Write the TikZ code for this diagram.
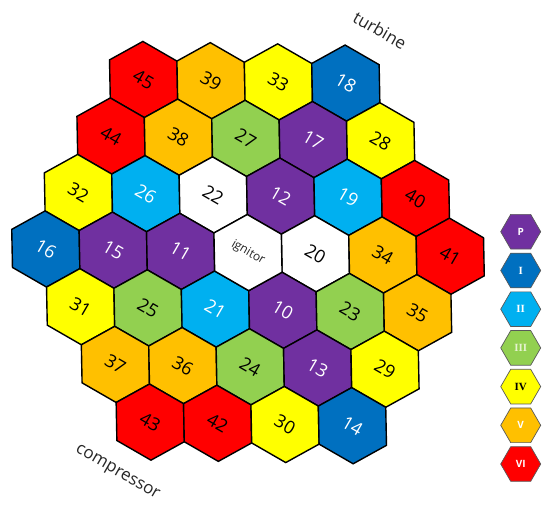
\documentclass[tikz,border=0pt]{standalone}
\usepackage{fontspec}
\setmainfont{Open Sans}
\newfontfamily\legserif{Liberation Serif}
\usetikzlibrary{shapes.geometric}
\definecolor{cred}{HTML}{FF0000}
\definecolor{corange}{HTML}{FFC000}
\definecolor{cyellow}{HTML}{FFFF00}
\definecolor{cgreen}{HTML}{92D050}
\definecolor{clblue}{HTML}{00B0F0}
\definecolor{cdblue}{HTML}{0070C0}
\definecolor{cpurple}{HTML}{7030A0}
\definecolor{cwhite}{HTML}{FFFFFF}
\definecolor{cpale}{HTML}{E6F2D0}
\tikzset{
  hexcell/.style={draw=black, line width=1.4pt, line join=miter},
  numlabel/.style={rotate=-30, inner sep=0pt, font=\fontsize{18}{18}\selectfont},
  sidelabel/.style={rotate=-30, inner sep=0pt, font=\fontsize{17}{17}\selectfont, text=black!85},
  leghex/.style={regular polygon, regular polygon sides=6, minimum size=40pt, inner sep=0pt, draw=black!65, line width=0.7pt},
  legsans/.style={font=\fontsize{10}{10}\selectfont\bfseries},
  legserif/.style={font=\fontsize{11}{11}\selectfont\legserif\bfseries}
}
\begin{document}
\begin{tikzpicture}[x=1pt, y=-1pt]
\useasboundingbox (0,0) rectangle (545,506);
\begin{scope}[shift={(45.8,249)}, x={(1pt,-0.0178pt)}, y={(0.0193pt,-1pt)}]
\foreach \i/\r/\lab/\col/\tc in {
  3/0/45/cred/black, 5/0/39/corange/black, 7/0/33/cyellow/black, 9/0/18/cdblue/white,
  2/1/44/cred/black, 4/1/38/corange/black, 6/1/27/cgreen/black, 8/1/17/cpurple/white, 10/1/28/cyellow/black,
  1/2/32/cyellow/black, 3/2/26/clblue/white, 5/2/22/cwhite/black, 7/2/12/cpurple/white, 9/2/19/clblue/white, 11/2/40/cred/black,
  0/3/16/cdblue/white, 2/3/15/cpurple/white, 4/3/11/cpurple/white, 8/3/20/cwhite/black, 10/3/34/corange/black, 12/3/41/cred/black,
  1/4/31/cyellow/black, 3/4/25/cgreen/black, 5/4/21/clblue/white, 7/4/10/cpurple/white, 9/4/23/cgreen/black, 11/4/35/corange/black,
  2/5/37/corange/black, 4/5/36/corange/black, 6/5/24/cgreen/black, 8/5/13/cpurple/white, 10/5/29/cyellow/black,
  3/6/43/cred/black, 5/6/42/cred/black, 7/6/30/cyellow/black, 9/6/14/cdblue/white}
{
  \draw[hexcell, fill=\col, shift={({\i*33.7},{(\r-3)*57.1})}]
    (0,-38.07) -- (33.7,-19.03) -- (33.7,19.03) -- (0,38.07) -- (-33.7,19.03) -- (-33.7,-19.03) -- cycle;
  \node[numlabel, text=\tc] (h\lab) at ({\i*33.7},{(\r-3)*57.1}) {\lab};
}
\draw[hexcell, fill=white, shift={(6*33.7,0)}]
  (0,-38.07) -- (33.7,-19.03) -- (33.7,19.03) -- (0,38.07) -- (-33.7,19.03) -- (-33.7,-19.03) -- cycle;
\node[rotate=-30, inner sep=0pt, font=\fontsize{12}{12}\selectfont, text=black!85] (hign) at (6*33.7,0) {ignitor};
\end{scope}
\node[sidelabel] (turbine) at (380,30) {turbine};
\node[sidelabel] (compressor) at (117,473) {compressor};
\node[leghex, fill=cpurple, text=white, legsans] (lP) at (520.7,231.7) {P};
\node[leghex, fill=cdblue, text=white, legserif] (lI) at (520.7,270.5) {I};
\node[leghex, fill=clblue, text=white, legserif] (lII) at (520.7,309.2) {II};
\node[leghex, fill=cgreen, text=cpale, legserif] (lIII) at (520.7,347.9) {III};
\node[leghex, fill=cyellow, text=black, legserif] (lIV) at (520.7,386.6) {IV};
\node[leghex, fill=corange, text=white, legsans] (lV) at (520.7,425.3) {V};
\node[leghex, fill=cred, text=white, legsans] (lVI) at (520.7,464) {VI};
\end{tikzpicture}
\end{document}
